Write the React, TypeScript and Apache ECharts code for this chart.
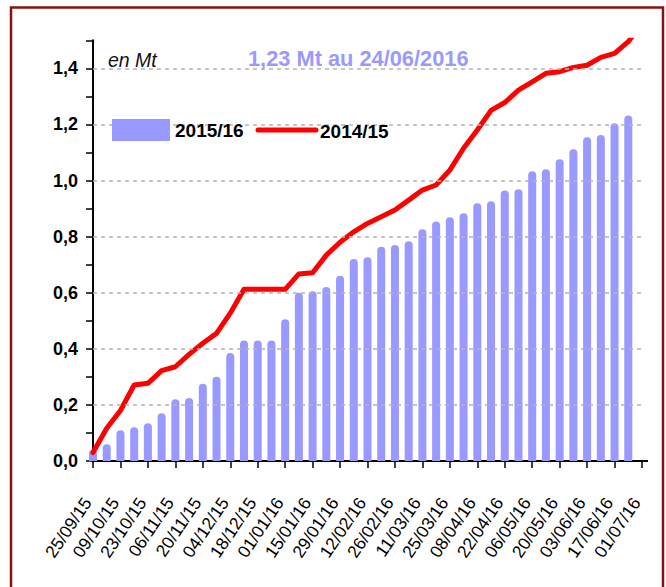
import React, { useEffect, useRef } from "react";
import * as echarts from "echarts";

const weeks = [
  "25/09/15", "02/10/15", "09/10/15", "16/10/15", "23/10/15", "30/10/15", "06/11/15", "13/11/15",
  "20/11/15", "27/11/15", "04/12/15", "11/12/15", "18/12/15", "25/12/15", "01/01/16", "08/01/16",
  "15/01/16", "22/01/16", "29/01/16", "05/02/16", "12/02/16", "19/02/16", "26/02/16", "04/03/16",
  "11/03/16", "18/03/16", "25/03/16", "01/04/16", "08/04/16", "15/04/16", "22/04/16", "29/04/16",
  "06/05/16", "13/05/16", "20/05/16", "27/05/16", "03/06/16", "10/06/16", "17/06/16", "24/06/16",
  "01/07/16",
];

const season1516 = [
  0.04, 0.06, 0.11, 0.12, 0.135, 0.17, 0.22, 0.225, 0.275, 0.3,
  0.385, 0.43, 0.43, 0.43, 0.505, 0.6, 0.605, 0.62, 0.66, 0.72,
  0.726, 0.764, 0.77, 0.783, 0.826, 0.854, 0.869, 0.883, 0.919, 0.926,
  0.964, 0.969, 1.033, 1.04, 1.076, 1.111, 1.154, 1.162, 1.204, 1.232,
  null,
];

const season1415 = [
  0.03, 0.117, 0.18, 0.271, 0.277, 0.322, 0.336, 0.38, 0.42, 0.455,
  0.527, 0.612, 0.612, 0.612, 0.612, 0.667, 0.671, 0.734, 0.78, 0.817,
  0.847, 0.871, 0.895, 0.93, 0.966, 0.984, 1.037, 1.115, 1.18, 1.25,
  1.278, 1.322, 1.352, 1.382, 1.388, 1.403, 1.411, 1.439, 1.453, 1.495,
  1.56,
];

const gridValues = [0.2, 0.4, 0.6, 0.8, 1.0, 1.2, 1.4];

const FONT = "'Liberation Sans', Arial, sans-serif";

export default function App() {
  const ref = useRef<HTMLDivElement>(null);

  useEffect(() => {
    if (!ref.current) return;
    const chart = echarts.init(ref.current, null, { renderer: "svg" });
    chart.setOption({
      animation: false,
      backgroundColor: "#ffffff",
      grid: { left: 93, right: 24, top: 40.25, bottom: 126, containLabel: false },
      legend: {
        left: 112,
        top: 119,
        z: 10,
        itemWidth: 58,
        itemHeight: 22,
        itemGap: 15,
        padding: 0,
        selectedMode: false,
        data: [{ name: "2015/16", icon: "rect" }],
        textStyle: { fontSize: 19, fontWeight: "bold", color: "#000", fontFamily: FONT },
      },
      xAxis: {
        type: "category",
        data: weeks,
        boundaryGap: false,
        axisLine: { show: true, lineStyle: { color: "#000", width: 2 } },
        axisTick: { show: true, interval: 1, length: 7, lineStyle: { color: "#000", width: 1.5 } },
        axisLabel: {
          interval: 1,
          rotate: 56,
          margin: 30,
          padding: [0, 10, 0, 0],
          fontSize: 17.5,
          color: "#000",
          fontFamily: FONT,
        },
        splitLine: { show: false },
      },
      yAxis: {
        type: "value",
        min: 0,
        max: 1.5,
        interval: 0.1,
        axisLine: { show: true, lineStyle: { color: "#000", width: 2 } },
        axisTick: { show: true, length: 7, lineStyle: { color: "#000", width: 1.5 } },
        axisLabel: {
          margin: 15,
          fontSize: 18,
          fontWeight: "bold",
          color: "#000",
          fontFamily: FONT,
          formatter: (v: number) => {
            const k = Math.round(v * 10);
            if (k % 2 !== 0 || k > 14) return "";
            return (k / 10).toFixed(1).replace(".", ",");
          },
        },
        splitLine: { show: false },
      },
      series: [
        {
          name: "grid",
          type: "line",
          data: [],
          z: 1,
          silent: true,
          markLine: {
            silent: true,
            symbol: "none",
            label: { show: false },
            lineStyle: { color: "#B4B4B4", type: [4, 4], width: 1.5 },
            data: gridValues.map((v) => ({ yAxis: v })),
          },
        },
        {
          name: "2015/16",
          type: "bar",
          data: season1516,
          barWidth: 8,
          z: 2,
          itemStyle: { color: "#9999FF", borderRadius: [4, 4, 0, 0] },
        },
        {
          name: "2014/15",
          type: "line",
          data: season1415,
          symbol: "none",
          z: 3,
          clip: true,
          color: "#FF0000",
          lineStyle: { color: "#FF0000", width: 5, cap: "round", join: "round" },
        },
      ],
      graphic: [
        {
          type: "rect",
          shape: { x: 11, y: 7.5, width: 652, height: 600 },
          style: { fill: "none", stroke: "#8B1111", lineWidth: 2.5 },
          silent: true,
          z: 100,
        },
        {
          type: "rect",
          shape: { x: 107, y: 116, width: 286, height: 28 },
          style: { fill: "#ffffff" },
          silent: true,
          z: 5,
        },
        {
          type: "line",
          shape: { x1: 642, y1: 461, x2: 648, y2: 461 },
          style: { stroke: "#000", lineWidth: 2 },
          silent: true,
          z: 5,
        },
        {
          type: "line",
          shape: { x1: 258, y1: 130, x2: 316, y2: 130 },
          style: { stroke: "#FF0000", lineWidth: 5, lineCap: "round" },
          silent: true,
          z: 11,
        },
        {
          type: "text",
          x: 320,
          y: 131,
          z: 11,
          style: {
            text: "2014/15",
            fontSize: 19,
            fontWeight: "bold",
            fill: "#000",
            fontFamily: FONT,
            verticalAlign: "middle",
          },
        },
        {
          type: "text",
          x: 108,
          y: 60,
          z: 11,
          style: {
            text: "en Mt",
            fontSize: 19.5,
            fontStyle: "italic",
            fill: "#111",
            fontFamily: FONT,
            verticalAlign: "middle",
          },
        },
        {
          type: "text",
          x: 248,
          y: 58,
          z: 11,
          style: {
            text: "1,23 Mt au 24/06/2016",
            fontSize: 21.8,
            fontWeight: "bold",
            fill: "#9999FF",
            fontFamily: FONT,
            verticalAlign: "middle",
          },
        },
      ],
    });
    return () => chart.dispose();
  }, []);

  return (
    <div
      ref={ref}
      style={{ position: "fixed", left: 0, top: 0, width: 666, height: 587, background: "#fff" }}
    />
  );
}
